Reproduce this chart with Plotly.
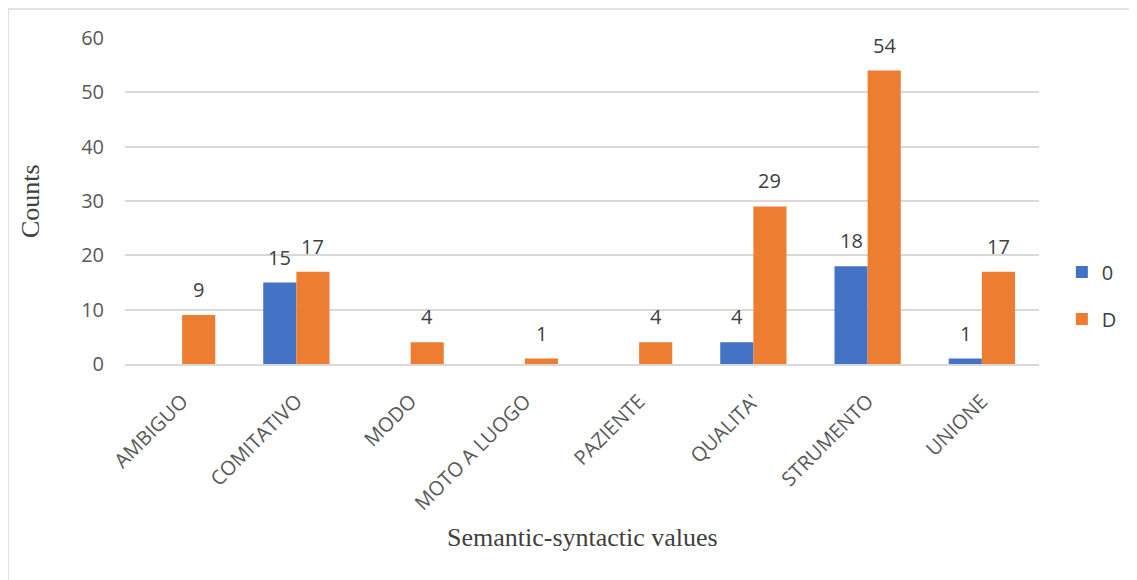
import plotly.graph_objects as go

# Counts per semantic-syntactic value
categories = ["AMBIGUO", "COMITATIVO", "MODO", "MOTO A LUOGO", "PAZIENTE", "QUALITA'", "STRUMENTO", "UNIONE"]
zero_counts = [0, 15, 0, 0, 0, 4, 18, 1]
d_counts = [9, 17, 4, 1, 4, 29, 54, 17]

label_font = dict(family="Open Sans, Noto Sans, sans-serif", size=20, color="#404040")
title_font = dict(family="Liberation Serif, Times New Roman, serif", size=26, color="#404040")

fig = go.Figure()
fig.add_trace(go.Bar(
    x=categories, y=zero_counts, name="0", legendgroup="a",
    marker=dict(color="#4472c4", line=dict(width=0)),
))
fig.add_trace(go.Bar(
    x=categories, y=d_counts, name="D", legendgroup="b",
    marker=dict(color="#ed7d31", line=dict(width=0)),
))

# value labels above bars (skip zeros, like the original)
labels = []
for series, shift in ((zero_counts, -16.6), (d_counts, 16.6)):
    for cat, v in zip(categories, series):
        if v:
            labels.append(dict(text=str(v), x=cat, y=v, xref="x", yref="y",
                               xshift=shift, yshift=10, yanchor="bottom",
                               showarrow=False, font=label_font))

fig.update_layout(
    width=1137, height=580,
    margin=dict(l=117, r=106, t=30, b=224, autoexpand=False),
    paper_bgcolor="white", plot_bgcolor="white",
    barmode="group", bargap=0.42, bargroupgap=0,
    font=label_font,
    showlegend=True,
    legend=dict(x=1.025, y=0.21, xanchor="left", yanchor="middle",
                font=dict(family="Open Sans, sans-serif", size=20, color="#404040"),
                itemwidth=30, tracegroupgap=18, bgcolor="rgba(0,0,0,0)"),
    shapes=[dict(type="rect", xref="paper", yref="paper",
                 x0=-0.128, x1=1.2, y0=-0.95, y1=1.089,
                 line=dict(color="#d9d9d9", width=1.5))],
    annotations=labels + [
        dict(text="Semantic-syntactic values", xref="paper", yref="paper",
             x=0.5, y=0, yshift=-173, xanchor="center", yanchor="middle",
             showarrow=False, font=title_font),
        dict(text="Counts", xref="paper", yref="paper", textangle=-90,
             x=0, y=0.5, xshift=-95, xanchor="center", yanchor="middle",
             showarrow=False, font=title_font),
    ],
)

fig.update_xaxes(
    tickangle=-45, tickfont=dict(family="Open Sans, sans-serif", size=20, color="#595959"),
    showline=True, linecolor="#d9d9d9", linewidth=1.5, ticks="", ticklabelstandoff=16,
)
fig.update_yaxes(
    range=[0, 60], dtick=10, showgrid=True, gridcolor="#d9d9d9", gridwidth=1.5,
    zeroline=False, ticks="", ticklabelstandoff=20,
    tickfont=dict(family="Open Sans, sans-serif", size=20, color="#595959"),
)

fig.write_html("out.html")
